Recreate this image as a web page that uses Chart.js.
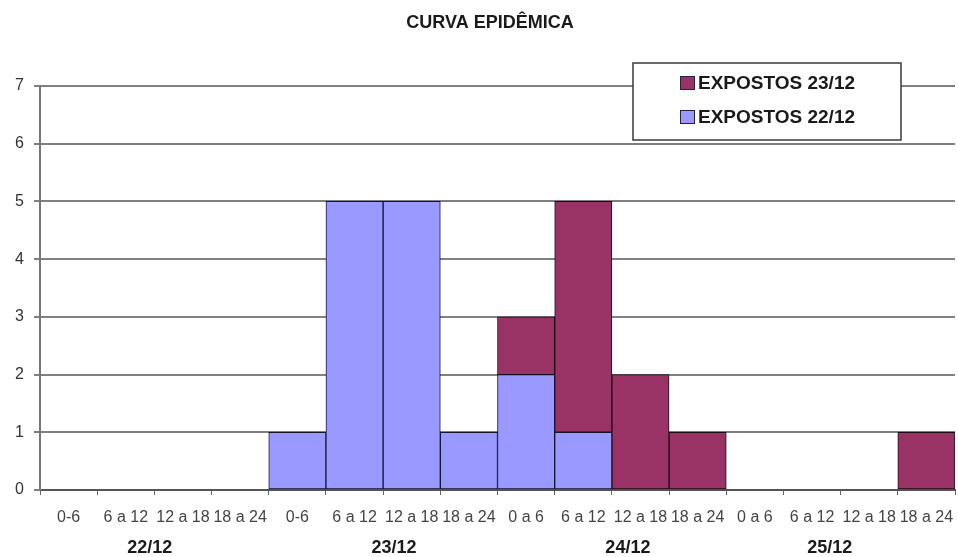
<!DOCTYPE html>
<html>
<head>
<meta charset="utf-8">
<script src="https://cdn.jsdelivr.net/npm/chart.js@4.4.0/dist/chart.umd.min.js"></script>
<style>
  html, body { margin: 0; padding: 0; background: #ffffff; }
  #wrap { width: 958px; height: 557px; }
</style>
</head>
<body>
<div id="wrap"><canvas id="curva" width="958" height="557" style="width:958px;height:557px"></canvas></div>
<script>
// Curva epidêmica: casos por período de 6 horas, empilhados por grupo de exposição
const chartTitle = 'CURVA EPIDÊMICA';
const periods = ['0-6', '6 a 12', '12 a 18', '18 a 24',
                 '0-6', '6 a 12', '12 a 18', '18 a 24',
                 '0 a 6', '6 a 12', '12 a 18', '18 a 24',
                 '0 a 6', '6 a 12', '12 a 18', '18 a 24'];
const days = ['22/12', '23/12', '24/12', '25/12'];
const expostos22 = [0, 0, 0, 0, 1, 5, 5, 1, 2, 1, 0, 0, 0, 0, 0, 0];
const expostos23 = [0, 0, 0, 0, 0, 0, 0, 0, 1, 4, 2, 1, 0, 0, 0, 1];
const yTicks = [0, 1, 2, 3, 4, 5, 6, 7];

const FONT = '"Liberation Sans", Arial, Helvetica, sans-serif';

// Título, rótulos dos dias e legenda em caixa, desenhados sobre o gráfico
const decor = {
  id: 'decor',
  afterDraw(chart, args, opts) {
    const { ctx } = chart;
    const x = chart.scales.x;
    ctx.save();
    ctx.textBaseline = 'middle';

    // título
    ctx.font = 'bold 18px ' + FONT;
    ctx.fillStyle = '#1a1a1a';
    ctx.textAlign = 'center';
    ctx.fillText(chartTitle, opts.titleX, opts.titleY);

    // dias sob os períodos
    ctx.font = 'bold 18px ' + FONT;
    days.forEach((d, i) => {
      ctx.fillText(d, x.getPixelForValue(opts.dayAt[i]), opts.dayY);
    });

    // legenda
    const b = opts.legendBox;
    ctx.fillStyle = '#ffffff';
    ctx.fillRect(b.left, b.top, b.right - b.left, b.bottom - b.top);
    ctx.strokeStyle = '#3a3a3a';
    ctx.lineWidth = 1.5;
    ctx.strokeRect(b.left, b.top, b.right - b.left, b.bottom - b.top);
    const items = chart.data.datasets.slice().reverse();
    ctx.textAlign = 'left';
    ctx.font = 'bold 19px ' + FONT;
    items.forEach((ds, i) => {
      const cy = b.firstRowY + i * b.rowGap;
      ctx.fillStyle = ds.backgroundColor;
      ctx.fillRect(b.swatchX, cy - 7, 15, 14);
      ctx.strokeStyle = '#222244';
      ctx.lineWidth = 1;
      ctx.strokeRect(b.swatchX + 0.5, cy - 6.5, 14, 13);
      ctx.fillStyle = '#1a1a1a';
      ctx.fillText(ds.label, b.swatchX + 18, cy + 1);
    });
    ctx.restore();
  }
};

new Chart(document.getElementById('curva'), {
  type: 'bar',
  data: {
    labels: periods,
    datasets: [
      {
        label: 'EXPOSTOS 22/12',
        data: expostos22,
        backgroundColor: '#9999ff',
        borderColor: '#141432',
        borderWidth: 1,
        borderSkipped: false
      },
      {
        label: 'EXPOSTOS 23/12',
        data: expostos23,
        backgroundColor: '#993366',
        borderColor: '#1e0a14',
        borderWidth: 1,
        borderSkipped: false
      }
    ]
  },
  options: {
    responsive: false,
    animation: false,
    events: [],
    barPercentage: 1,
    categoryPercentage: 1,
    layout: { padding: { top: 86, right: 3, left: 0, bottom: 0 } },
    plugins: {
      legend: { display: false },
      title: { display: false },
      tooltip: { enabled: false },
      decor: {
        titleX: 490,
        titleY: 23,
        dayY: 548,
        dayAt: [1.42, 5.69, 9.78, 13.31],
        legendBox: { left: 633, top: 63, right: 901, bottom: 140, swatchX: 680, firstRowY: 83, rowGap: 34 }
      }
    },
    scales: {
      x: {
        stacked: true,
        offset: true,
        afterFit(scale) {
          scale.height = 67;
          scale.paddingLeft = 0;
          scale.paddingRight = 0;
        },
        border: { display: true, color: '#555555', width: 2 },
        grid: {
          offset: true,
          drawOnChartArea: false,
          drawTicks: true,
          tickLength: 5,
          color: '#666666',
          lineWidth: 1
        },
        ticks: {
          autoSkip: false,
          maxRotation: 0,
          minRotation: 0,
          padding: 13,
          color: '#444444',
          font: { family: FONT, size: 16 }
        }
      },
      y: {
        stacked: true,
        min: 0,
        max: 7,
        afterFit(scale) { scale.width = 40; },
        afterBuildTicks(scale) { scale.ticks = yTicks.map(v => ({ value: v })); },
        border: { display: true, color: '#777777', width: 2 },
        grid: {
          color: '#808080',
          lineWidth: 2,
          drawTicks: true,
          tickLength: 6
        },
        ticks: {
          stepSize: 1,
          padding: 10,
          color: '#333333',
          font: { family: FONT, size: 16 }
        }
      }
    }
  },
  plugins: [decor]
});
</script>
</body>
</html>
